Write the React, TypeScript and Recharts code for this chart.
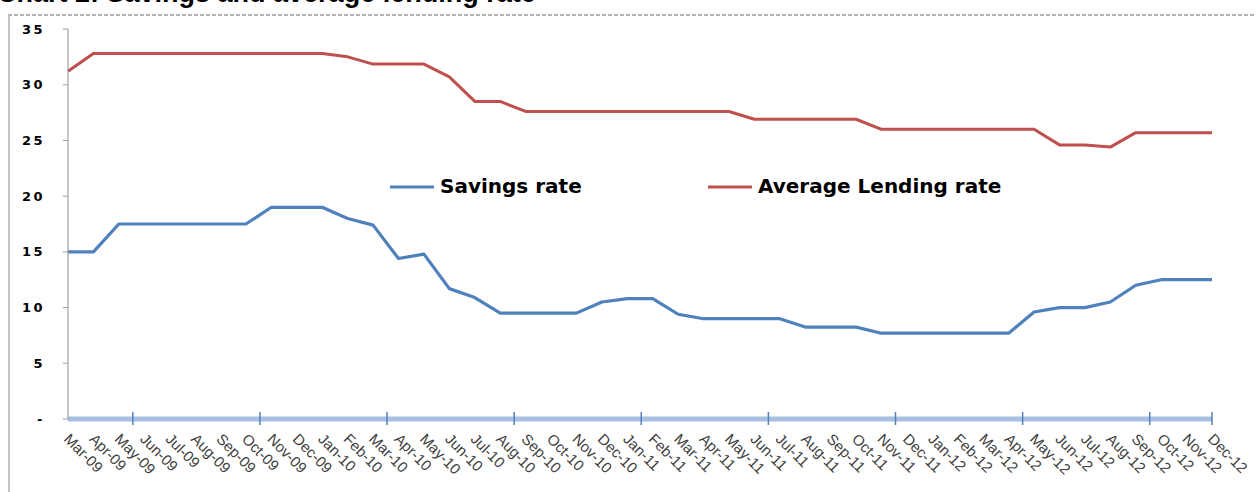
import React from "react";
import { LineChart, Line, XAxis, YAxis, Legend } from "recharts";

// Monthly series, Mar-09 .. Dec-12
const months = [
  "Mar-09", "Apr-09", "May-09", "Jun-09", "Jul-09", "Aug-09", "Sep-09", "Oct-09",
  "Nov-09", "Dec-09", "Jan-10", "Feb-10", "Mar-10", "Apr-10", "May-10", "Jun-10",
  "Jul-10", "Aug-10", "Sep-10", "Oct-10", "Nov-10", "Dec-10", "Jan-11", "Feb-11",
  "Mar-11", "Apr-11", "May-11", "Jun-11", "Jul-11", "Aug-11", "Sep-11", "Oct-11",
  "Nov-11", "Dec-11", "Jan-12", "Feb-12", "Mar-12", "Apr-12", "May-12", "Jun-12",
  "Jul-12", "Aug-12", "Sep-12", "Oct-12", "Nov-12", "Dec-12",
];

const savingsRate = [
  15, 15, 17.5, 17.5, 17.5, 17.5, 17.5, 17.5, 19, 19, 19, 18, 17.4, 14.4, 14.8, 11.7,
  10.9, 9.5, 9.5, 9.5, 9.5, 10.5, 10.8, 10.8, 9.4, 9, 9, 9, 9, 8.25, 8.25, 8.25,
  7.7, 7.7, 7.7, 7.7, 7.7, 7.7, 9.6, 10, 10, 10.5, 12, 12.5, 12.5, 12.5,
];

const lendingRate = [
  31.2, 32.8, 32.8, 32.8, 32.8, 32.8, 32.8, 32.8, 32.8, 32.8, 32.8, 32.5, 31.85, 31.85, 31.85, 30.7,
  28.5, 28.5, 27.6, 27.6, 27.6, 27.6, 27.6, 27.6, 27.6, 27.6, 27.6, 26.9, 26.9, 26.9, 26.9, 26.9,
  26, 26, 26, 26, 26, 26, 26, 24.6, 24.6, 24.4, 25.7, 25.7, 25.7, 25.7,
];

const yTicks = [0, 5, 10, 15, 20, 25, 30, 35];
// major tick marks on the category axis (every fifth month, plus the end)
const majorMarks = [2.55, 7.55, 12.55, 17.55, 22.55, 27.55, 32.55, 37.55, 42.55];

const BLUE = "#4F81BD";
const RED = "#C0504D";

const data = months.map((m, i) => ({
  idx: i,
  month: m,
  savings: savingsRate[i],
  lending: lendingRate[i],
}));

const lastIdx = months.length - 1;
const xTicks = [...months.map((_m, i) => i), ...majorMarks].sort((a, b) => a - b);

const MonthTick = (props: any) => {
  const { x, y, payload } = props;
  const v = payload.value as number;
  const isLabel = Number.isInteger(v);
  const isMark = !isLabel || v === lastIdx;
  const tx = x - 5;
  const ty = y + 21;
  return (
    <g>
      {isMark && (
        <line x1={x} x2={x} y1={y - 7} y2={y + 6} stroke={BLUE} strokeWidth={1.5} />
      )}
      {isLabel && (
        <text
          x={tx}
          y={ty}
          transform={`rotate(45, ${tx}, ${ty})`}
          textAnchor="start"
          fontFamily="'Liberation Sans', Arial, sans-serif"
          fontSize={15}
          fill="#404040"
        >
          {months[v]}
        </text>
      )}
    </g>
  );
};

const legendItems = [
  { label: "Savings rate", color: BLUE, width: 318 },
  { label: "Average Lending rate", color: RED, width: 320 },
];

const LegendContent = () => (
  <div style={{ display: "flex", alignItems: "center", height: 24 }}>
    {legendItems.map((item) => (
      <div
        key={item.label}
        style={{ display: "flex", alignItems: "center", width: item.width }}
      >
        <svg width={44} height={24}>
          <line x1={0} x2={44} y1={13} y2={13} stroke={item.color} strokeWidth={3} />
        </svg>
        <span
          style={{
            marginLeft: 6,
            fontFamily: "'DejaVu Sans', Verdana, sans-serif",
            fontWeight: "bold",
            fontSize: 20,
            lineHeight: "24px",
            color: "#000",
            whiteSpace: "nowrap",
          }}
        >
          {item.label}
        </span>
      </div>
    ))}
  </div>
);

export default function App() {
  return (
    <div
      style={{
        position: "absolute",
        left: 0,
        top: 0,
        width: 1256,
        height: 492,
        overflow: "hidden",
        background: "#fff",
      }}
    >
      <svg
        width={1256}
        height={492}
        style={{ position: "absolute", left: 0, top: 0 }}
      >
        <text
          x={-3}
          y={2}
          fontFamily="'Liberation Sans', Arial, sans-serif"
          fontWeight="bold"
          fontSize={27}
          fill="#000"
        >
          Chart 2: Savings and average lending rate
        </text>
        <line x1={8} x2={1256} y1={15} y2={15} stroke="#b4b4b4" strokeWidth={2} strokeDasharray="4 2" />
        <line x1={9} x2={9} y1={15} y2={492} stroke="#c4c4c4" strokeWidth={2} />
      </svg>
      <div style={{ position: "absolute", left: 0, top: 0 }}>
        <LineChart
          width={1256}
          height={492}
          data={data}
          margin={{ top: 29, right: 44, left: 8, bottom: 0 }}
        >
          <XAxis
            dataKey="idx"
            type="number"
            domain={[0, lastIdx]}
            ticks={xTicks}
            interval={0}
            tick={<MonthTick />}
            tickLine={false}
            tickSize={0}
            tickMargin={0}
            axisLine={{ stroke: "#a8c0e0", strokeWidth: 5 }}
            height={73}
          />
          <YAxis
            domain={[0, 35]}
            ticks={yTicks}
            width={60}
            tickSize={5}
            tickMargin={18}
            tickFormatter={(v: number) => (v === 0 ? "-" : String(v))}
            axisLine={{ stroke: "#8c8c8c" }}
            tickLine={{ stroke: "#a0a0a0" }}
            tick={{
              fontFamily: "'DejaVu Sans', Verdana, sans-serif",
              fontWeight: "bold",
              fontSize: 13,
              fill: "#000",
              letterSpacing: 2.5,
            }}
          />
          <Legend
            layout="horizontal"
            verticalAlign="middle"
            align="center"
            content={<LegendContent />}
            wrapperStyle={{ left: 390, top: 174, width: 700, height: 24 }}
          />
          <Line
            type="linear"
            dataKey="savings"
            name="Savings rate"
            stroke={BLUE}
            strokeWidth={3.2}
            strokeLinejoin="round"
            dot={false}
            activeDot={false}
            isAnimationActive={false}
          />
          <Line
            type="linear"
            dataKey="lending"
            name="Average Lending rate"
            stroke={RED}
            strokeWidth={3}
            strokeLinejoin="round"
            dot={false}
            activeDot={false}
            isAnimationActive={false}
          />
        </LineChart>
      </div>
    </div>
  );
}
